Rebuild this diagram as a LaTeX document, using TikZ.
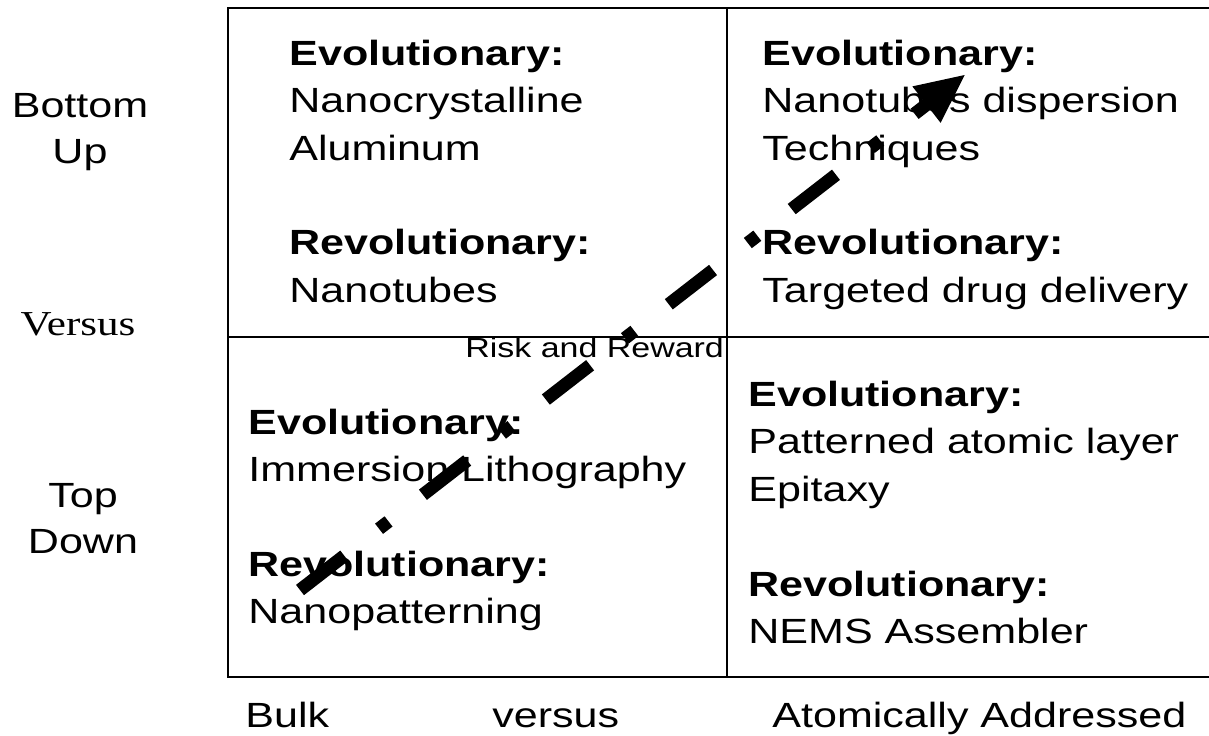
\documentclass[tikz,border=0pt]{standalone}
\usepackage{fontspec}
\setmainfont{Liberation Sans}[FakeStretch=1.23]
\newfontfamily\versusfont{Liberation Serif}[FakeStretch=1.23]
\usetikzlibrary{arrows.meta}

\begin{document}
\begin{tikzpicture}[x=0.5pt,y=-0.5pt,
    quad/.style={anchor=base west,align=left,inner sep=0pt,
      font=\fontsize{17.5}{23.75}\selectfont},
    side/.style={anchor=base,align=center,inner sep=0pt,
      font=\fontsize{17.5}{23}\selectfont}]
  \useasboundingbox (0,0) rectangle (1209,735);

  % quadrant frame
  \draw[line width=1pt] (1209,8) -- (228,8) -- (228,677) -- (1209,677);
  \draw[line width=0.7pt] (727,8) -- (727,677);
  \draw[line width=0.7pt] (228,337) -- (1209,337);

  % quadrant texts (placed at the baseline of their last line)
  \node[quad] (tlEvo) at (289,160) {\textbf{Evolutionary:}\\Nanocrystalline\\Aluminum};
  \node[quad] (tlRev) at (289,302) {\textbf{Revolutionary:}\\Nanotubes};
  \node[quad] (trEvo) at (762,160) {\textbf{Evolutionary:}\\Nanotubes dispersion\\Techniques};
  \node[quad] (trRev) at (762,302) {\textbf{Revolutionary:}\\Targeted drug delivery};
  \node[quad] (blEvo) at (248,481.5) {\textbf{Evolutionary:}\\Immersion Lithography};
  \node[quad] (blRev) at (248,623.5) {\textbf{Revolutionary:}\\Nanopatterning};
  \node[quad] (brEvo) at (748,501) {\textbf{Evolutionary:}\\Patterned atomic layer\\Epitaxy};
  \node[quad] (brRev) at (748,643.5) {\textbf{Revolutionary:}\\NEMS Assembler};

  % axis labels
  \node[side] (bottomUp) at (80,163) {Bottom\\Up};
  \node[side,font=\versusfont\fontsize{17.5}{20}\selectfont] (versusSide) at (78,335) {Versus};
  \node[side] (topDown) at (83,553) {Top\\Down};
  \node[quad] (bulk) at (245,727) {Bulk};
  \node[quad] (versusBase) at (492,727) {versus};
  \node[quad] (atomic) at (772,727) {Atomically Addressed};

  % risk and reward arrow
  \node[anchor=base west,inner sep=0pt,font=\fontsize{13.8}{16}\selectfont]
    (risk) at (465,357) {Risk and Reward};
  \coordinate (riskStart) at (300,590);
  \coordinate (riskEnd) at (966,74);
  \draw[line width=6.5pt,dash pattern=on 28pt off 22pt on 6pt off 21.75pt,
    -{Triangle[length=25pt,width=21pt]}] (riskStart) -- (riskEnd);
\end{tikzpicture}
\end{document}
